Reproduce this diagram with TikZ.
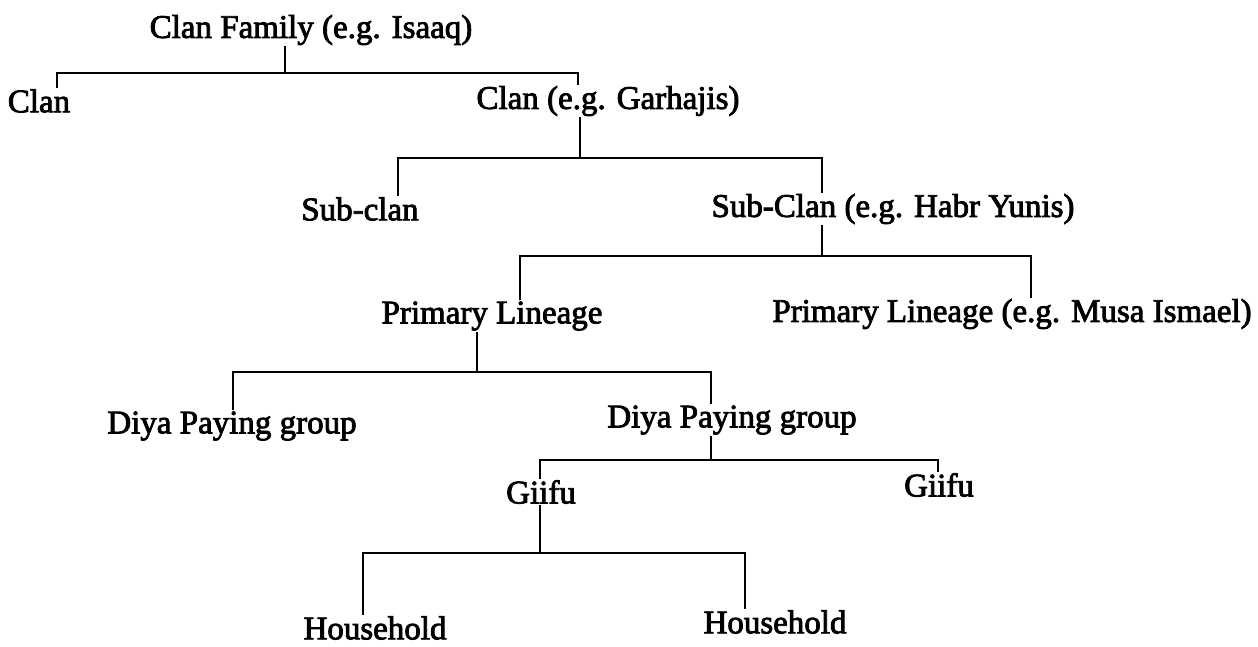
\documentclass[tikz,border=0pt]{standalone}
\usepackage{fontspec}
\setmainfont{Liberation Serif}[FakeBold=2.5]
\begin{document}
\begin{tikzpicture}[x=1pt,y=-1pt,
  lbl/.style={inner sep=1pt,font=\fontsize{33}{36}\selectfont},
  conn/.style={line width=2.6pt,line cap=butt}]
\useasboundingbox (0,0) rectangle (1258,646);
% nodes
\node[lbl] (cf) at (311,30) {Clan Family (e.g. Isaaq)};
\node[lbl] (clanL) at (39,101) {Clan};
\node[lbl] (clanG) at (608,101) {Clan (e.g. Garhajis)};
\node[lbl] (subL) at (360,209) {Sub-clan};
\node[lbl] (subH) at (893,209) {Sub-Clan (e.g. Habr Yunis)};
\node[lbl] (plL) at (492,316) {Primary Lineage};
\node[lbl] (plM) at (1012,314) {Primary Lineage (e.g. Musa Ismael)};
\node[lbl] (dL) at (232,426) {Diya Paying group};
\node[lbl] (dR) at (732,420) {Diya Paying group};
\node[lbl] (gL) at (541,492) {Giifu};
\node[lbl] (gR) at (939,485) {Giifu};
\node[lbl] (hL) at (375,628) {Household};
\node[lbl] (hR) at (775,622) {Household};
% bar junctions
\coordinate (s1) at (285,73);  \coordinate (l1) at (57,73);  \coordinate (r1) at (578,73);
\coordinate (s2) at (580,158); \coordinate (l2) at (398,158); \coordinate (r2) at (822,158);
\coordinate (s3) at (822,256); \coordinate (l3) at (520,256); \coordinate (r3) at (1031,256);
\coordinate (s4) at (477,372); \coordinate (l4) at (233,372); \coordinate (r4) at (711,372);
\coordinate (s5) at (711,460); \coordinate (l5) at (540,460); \coordinate (r5) at (938,460);
\coordinate (s6) at (540,553); \coordinate (l6) at (363,553); \coordinate (r6) at (745,553);
% connectors
\draw[conn] (cf.south -| s1) -- (s1);
\draw[conn] (clanL.north -| l1) -- (l1) -- (r1) -- (clanG.north -| r1);
\draw[conn] (clanG.south -| s2) -- (s2);
\draw[conn] (subL.north -| l2) -- (l2) -- (r2) -- (subH.north -| r2);
\draw[conn] (subH.south -| s3) -- (s3);
\draw[conn] (plL.north -| l3) -- (l3) -- (r3) -- (plM.north -| r3);
\draw[conn] (plL.south -| s4) -- (s4);
\draw[conn] (dL.north -| l4) -- (l4) -- (r4) -- (dR.north -| r4);
\draw[conn] (dR.south -| s5) -- (s5);
\draw[conn] (gL.north -| l5) -- (l5) -- (r5) -- (gR.north -| r5);
\draw[conn] (gL.south -| s6) -- (s6);
\draw[conn] (hL.north -| l6) -- (l6) -- (r6) -- (hR.north -| r6);
\end{tikzpicture}
\end{document}
